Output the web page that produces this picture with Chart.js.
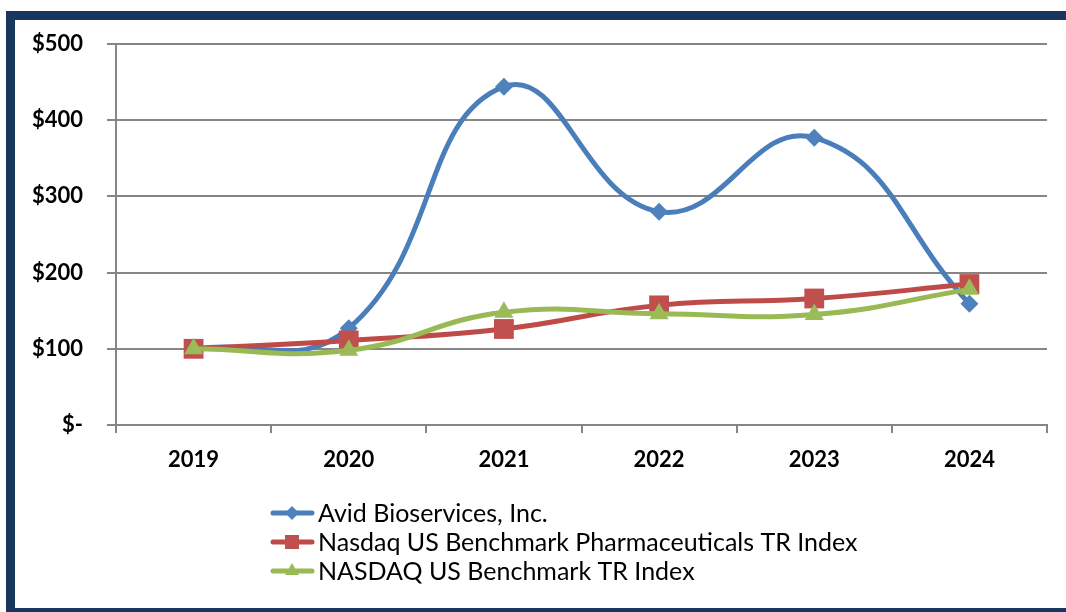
<!DOCTYPE html>
<html><head><meta charset="utf-8">
<script src="https://cdn.jsdelivr.net/npm/chart.js@4/dist/chart.umd.min.js"></script>
<style>
html,body{margin:0;padding:0;background:#fff;overflow:hidden;width:1066px;height:612px;}
#frame{position:absolute;left:6px;top:11px;width:1090px;height:606px;border:9px solid #17375E;box-sizing:border-box;}
#wrap{position:absolute;left:0;top:0;width:1066px;height:612px;}
</style></head><body>
<div id="frame"></div>
<div id="wrap"><canvas id="c" width="1066" height="612"></canvas></div>
<script>
const categories = ['2019','2020','2021','2022','2023','2024'];
const seriesNames = ['Avid Bioservices, Inc.','Nasdaq US Benchmark Pharmaceuticals TR Index','NASDAQ US Benchmark TR Index'];
const avid   = [100, 127, 444, 280, 377, 159];
const pharma = [100, 111, 126, 157, 166, 185];
const nasdaq = [100,  98, 148, 146, 145, 178];
const yTickValues = [0, 100, 200, 300, 400, 500];
const yTickLabels = ['$-', '$100', '$200', '$300', '$400', '$500'];

const legendPlugin = {
  id: 'vlegend',
  afterDraw(chart) {
    const c = chart.ctx;
    const ys = [513, 542, 571];
    chart.data.datasets.forEach((ds, i) => {
      const y = ys[i];
      c.save();
      c.strokeStyle = ds.borderColor; c.lineWidth = 5; c.lineCap = 'round';
      c.beginPath(); c.moveTo(273, y); c.lineTo(312, y); c.stroke();
      c.fillStyle = ds.backgroundColor;
      const x = 292;
      c.beginPath();
      if (ds.pointStyle === 'rectRot') {
        const r = 7;
        c.moveTo(x - r, y); c.lineTo(x, y - r); c.lineTo(x + r, y); c.lineTo(x, y + r);
      } else if (ds.pointStyle === 'rect') {
        const h = 7; c.rect(x - h, y - h, 2 * h, 2 * h);
      } else {
        const r = 8;
        c.moveTo(x, y - r); c.lineTo(x + r * 0.87, y + r * 0.5); c.lineTo(x - r * 0.87, y + r * 0.5);
      }
      c.closePath(); c.fill();
      c.fillStyle = '#000';
      c.font = '25px Lato';
      c.textBaseline = 'middle';
      c.textAlign = 'left';
      c.fillText(ds.label, 318, y + 1);
      c.restore();
    });
  }
};

const gridColor = '#868686';
const tickFont = {family: 'Lato', size: 22, weight: 'bold'};

new Chart(document.getElementById('c').getContext('2d'), {
  type: 'line',
  data: {
    labels: categories,
    datasets: [
      {label: seriesNames[0], data: avid, borderColor: '#4A7EBB', backgroundColor: '#4F81BD', pointStyle: 'rectRot', pointRadius: 9, pointBorderWidth: 0, borderWidth: 5, tension: 0.45, order: 2},
      {label: seriesNames[1], data: pharma, borderColor: '#BE4B48', backgroundColor: '#C0504D', pointStyle: 'rect', pointRadius: 14, pointBorderWidth: 0, borderWidth: 5, tension: 0.45, order: 1},
      {label: seriesNames[2], data: nasdaq, borderColor: '#98B954', backgroundColor: '#9BBB59', pointStyle: 'triangle', pointRadius: 11, pointBorderWidth: 0, borderWidth: 5, tension: 0.45, order: 0}
    ]
  },
  options: {
    responsive: false,
    animation: false,
    devicePixelRatio: 1,
    layout: {padding: {top: 44, right: 19, left: 0, bottom: 0}},
    plugins: {legend: {display: false}, tooltip: {enabled: false}},
    scales: {
      x: {
        offset: true,
        grid: {offset: true, drawOnChartArea: false, tickLength: 8, color: gridColor, lineWidth: 2},
        border: {color: gridColor, width: 2},
        ticks: {font: tickFont, color: '#000', padding: 14, maxRotation: 0},
        afterFit(s) { s.height = 612 - 425; }
      },
      y: {
        min: 0, max: 500,
        afterBuildTicks(s) { s.ticks = yTickValues.map(v => ({value: v})); },
        ticks: {font: tickFont, color: '#000', padding: 24, callback: (v) => yTickLabels[yTickValues.indexOf(v)]},
        grid: {color: gridColor, lineWidth: 2, tickLength: 9},
        border: {color: gridColor, width: 2},
        afterFit(s) { s.width = 116; }
      }
    }
  },
  plugins: [legendPlugin]
});
</script>
</body></html>
